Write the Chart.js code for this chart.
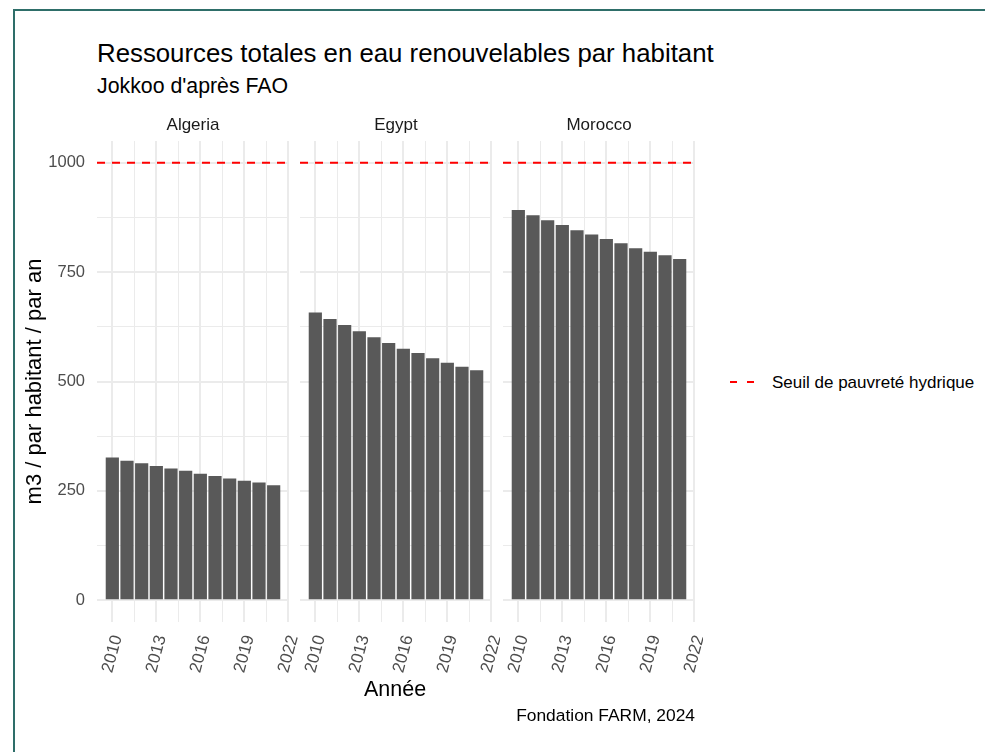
<!DOCTYPE html>
<html>
<head>
<meta charset="utf-8">
<script src="https://cdn.jsdelivr.net/npm/chart.js"></script>
<style>
  body { margin: 0; background: #fff; font-family: "Liberation Sans", Arial, sans-serif; }
  #page { position: relative; width: 985px; height: 752px; overflow: hidden; background: #fff; }
  #frame { position: absolute; left: 13px; top: 9px; width: 1000px; height: 800px;
           border-left: 2px solid #2e6e69; border-top: 2px solid #2e6e69; }
  canvas { position: absolute; }
  .txt { position: absolute; line-height: 1; white-space: nowrap; color: #000; }
  .dash { position: absolute; width: 7px; height: 2px; background: #ff0000; }
</style>
</head>
<body>
<div id="page">
  <div id="frame"></div>
  <div class="txt" style="left:97px; top:41px; font-size:25.8px;">Ressources totales en eau renouvelables par habitant</div>
  <div class="txt" style="left:97px; top:76px; font-size:21.3px;">Jokkoo d'après FAO</div>

  <canvas id="c1" width="300" height="600" style="left:0px; top:100px;"></canvas>
  <canvas id="c2" width="208" height="600" style="left:292px; top:100px;"></canvas>
  <canvas id="c3" width="208" height="600" style="left:495px; top:100px;"></canvas>

  <div class="txt" style="left:395px; top:679px; font-size:21.5px; transform:translateX(-50%);">Année</div>
  <div class="txt" style="right:290px; top:707px; font-size:17.4px;">Fondation FARM, 2024</div>

  <div class="dash" style="left:730px; top:381px;"></div>
  <div class="dash" style="left:747px; top:381px;"></div>
  <div class="txt" style="left:772px; top:374px; font-size:17px;">Seuil de pauvreté hydrique</div>
</div>

<script>
// données (m3 / habitant / an)
var years = [2010, 2011, 2012, 2013, 2014, 2015, 2016, 2017, 2018, 2019, 2020, 2021];
var algeria = [326, 319, 313, 307, 301, 296, 289, 284, 278, 273, 269, 263];
var egypt = [658, 643, 629, 615, 601, 588, 575, 565, 553, 543, 534, 526];
var morocco = [892, 880, 869, 858, 846, 836, 826, 816, 805, 797, 789, 780];
var seuil = 1000;

var xTicks = [2010, 2011.5, 2013, 2014.5, 2016, 2017.5, 2019, 2020.5, 2022];
var yTicks = [0, 125, 250, 375, 500, 625, 750, 875, 1000];

// limites comme ggplot (expansion 5%)
var lo = years[0] - 0.45, hi = years[years.length - 1] + 0.45;
var xMin = lo - (hi - lo) * 0.05;
var xMax = hi + (hi - lo) * 0.05;
var yMin = -0.05 * seuil, yMax = seuil * 1.05;

Chart.defaults.font.family = '"Liberation Sans", Arial, sans-serif';

function isMajorX(v) { return (v - 2010) % 3 === 0; }
function isMajorY(v) { return v % 250 === 0; }

function makeChart(id, name, values, showY, pad) {
  var pts = [];
  for (var i in years) {
    pts.push({x: years[i], y: values[i]});
  }

  return new Chart(document.getElementById(id), {
    type: 'bar',
    data: {
      datasets: [
        {
          type: 'bar',
          data: pts,
          backgroundColor: '#595959',
          borderWidth: 0,
          barPercentage: 0.9,
          categoryPercentage: 1
        },
        {
          type: 'line',
          data: [{x: xMin, y: seuil}, {x: xMax, y: seuil}],
          borderColor: '#ff0000',
          borderWidth: 2,
          borderDash: [8, 7],
          borderCapStyle: 'butt',
          pointRadius: 0,
          fill: false
        }
      ]
    },
    options: {
      responsive: false,
      animation: false,
      devicePixelRatio: 1,
      layout: { padding: { left: pad[0], right: pad[1], top: 0, bottom: 0 } },
      plugins: {
        legend: { display: false },
        tooltip: { enabled: false },
        title: {
          display: true,
          text: name,
          fullSize: false,
          color: '#1a1a1a',
          font: { size: 17, weight: 'normal' },
          padding: { top: 15, bottom: 5.6 }
        }
      },
      scales: {
        x: {
          type: 'linear',
          min: xMin,
          max: xMax,
          offset: false,
          border: { display: false },
          grid: {
            offset: false,
            drawTicks: false,
            color: '#ebebeb',
            lineWidth: function(c) { return c.tick && isMajorX(c.tick.value) ? 2 : 1; }
          },
          afterBuildTicks: function(s) {
            s.ticks = xTicks.map(function(v) { return {value: v}; });
          },
          afterFit: function(s) {
            s.height = 78;
            s.paddingLeft = 0;
            s.paddingRight = 0;
          },
          ticks: {
            autoSkip: false,
            minRotation: 75,
            maxRotation: 75,
            padding: 11,
            labelOffset: 5,
            color: '#4d4d4d',
            font: { size: 17 },
            callback: function(v) { return isMajorX(v) ? String(v) : ''; }
          }
        },
        y: {
          type: 'linear',
          min: yMin,
          max: yMax,
          border: { display: false },
          grid: {
            drawTicks: false,
            color: '#ebebeb',
            lineWidth: function(c) { return c.tick && isMajorY(c.tick.value) ? 2 : 1; }
          },
          afterBuildTicks: function(s) {
            s.ticks = yTicks.map(function(v) { return {value: v}; });
          },
          afterFit: function(s) {
            s.width = showY ? 97 : 0;
            s.paddingTop = 0;
            s.paddingBottom = 0;
          },
          ticks: {
            display: showY,
            padding: 12,
            color: '#4d4d4d',
            font: { size: 16.5 },
            callback: function(v) { return isMajorY(v) ? String(v) : ''; }
          },
          title: {
            display: showY,
            text: 'm3 / par habitant / par an',
            color: '#000',
            font: { size: 22 },
            padding: { top: 22, bottom: 0 }
          }
        }
      }
    }
  });
}

makeChart('c1', 'Algeria', algeria, true, [0, 11]);
makeChart('c2', 'Egypt', egypt, false, [8, 8]);
makeChart('c3', 'Morocco', morocco, false, [8, 8]);
</script>
</body>
</html>
